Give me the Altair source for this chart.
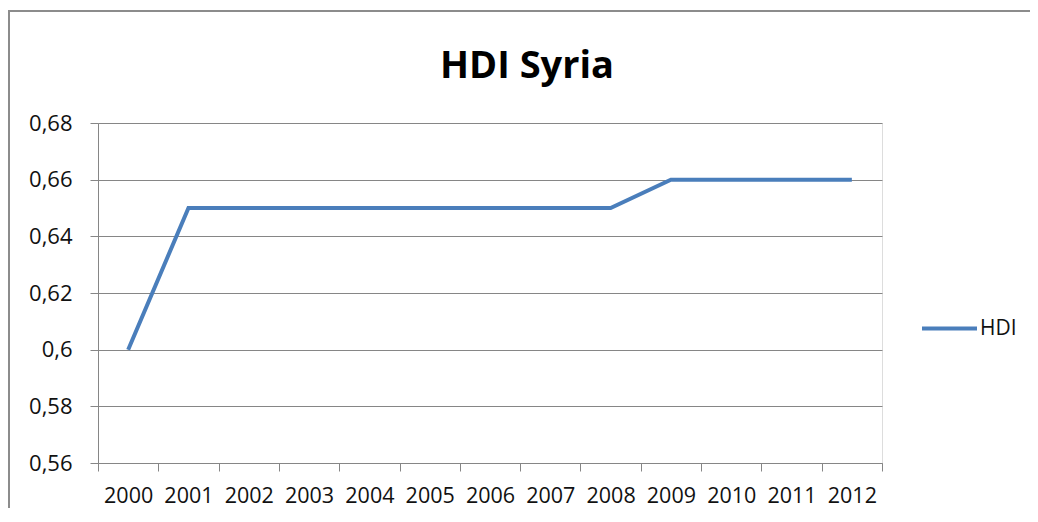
import altair as alt
import pandas as pd

years = ["2000", "2001", "2002", "2003", "2004", "2005", "2006",
         "2007", "2008", "2009", "2010", "2011", "2012"]
hdi = [0.60, 0.65, 0.65, 0.65, 0.65, 0.65, 0.65, 0.65, 0.65, 0.66, 0.66, 0.66, 0.66]
y_ticks = [0.56, 0.58, 0.60, 0.62, 0.64, 0.66, 0.68]
series_name = "HDI"
title_text = "HDI Syria"

df = pd.DataFrame({"year": years, "value": hdi, "series": [series_name] * len(years)})

FONT = "Open Sans"
GRAY = "#868686"
BLUE = "#4A7EBB"

line = alt.Chart(df).mark_line(strokeWidth=4, strokeCap="butt", strokeJoin="miter").encode(
    x=alt.X("year:N", sort=years, bandPosition=0.5,
            scale=alt.Scale(type="band", paddingInner=0, paddingOuter=0),
            axis=alt.Axis(title=None, tickBand="extent", grid=False, labelAngle=0,
                          domainColor=GRAY, tickColor=GRAY, tickSize=8,
                          labelFont=FONT, labelFontSize=21.5, labelColor="#111",
                          labelPadding=14)),
    y=alt.Y("value:Q", scale=alt.Scale(domain=[0.56, 0.68], nice=False, zero=False),
            axis=alt.Axis(title=None, values=y_ticks, grid=True, gridColor=GRAY,
                          domainColor=GRAY, tickColor=GRAY, tickSize=8,
                          labelFont=FONT, labelFontSize=22, labelColor="#111",
                          labelPadding=18,
                          labelExpr="replace(format(datum.value, '.2~f'), '.', ',')")),
    color=alt.Color("series:N", scale=alt.Scale(range=[BLUE]),
                    legend=alt.Legend(title=None, orient="none", legendX=822, legendY=176,
                                      symbolType="stroke", symbolSize=3025,
                                      symbolStrokeWidth=4, labelFont=FONT,
                                      labelFontSize=21, labelColor="#111",
                                      labelOffset=1)),
)

border = pd.DataFrame({"a": [0]})
frame = alt.Chart(border).mark_rect(fill="transparent", stroke="#8c8c8c", strokeWidth=2).encode(
    x=alt.value(-89), x2=alt.value(1000), y=alt.value(-112), y2=alt.value(520))
title = alt.Chart(border).mark_text(
    text=title_text, font=FONT, fontWeight="bold", fontSize=38, color="#000",
    align="center", baseline="alphabetic").encode(
    x=alt.value(429), y=alt.value(-45))

chart = alt.layer(frame, line, title).properties(
    width=784, height=340,
    autosize=alt.AutoSizeParams(type="none"),
    padding={"left": 90, "top": 115, "right": 148, "bottom": 45},
).configure_view(stroke=None).configure(background="white")

chart.save("out.html", embed_options={"renderer": "svg", "actions": False})
